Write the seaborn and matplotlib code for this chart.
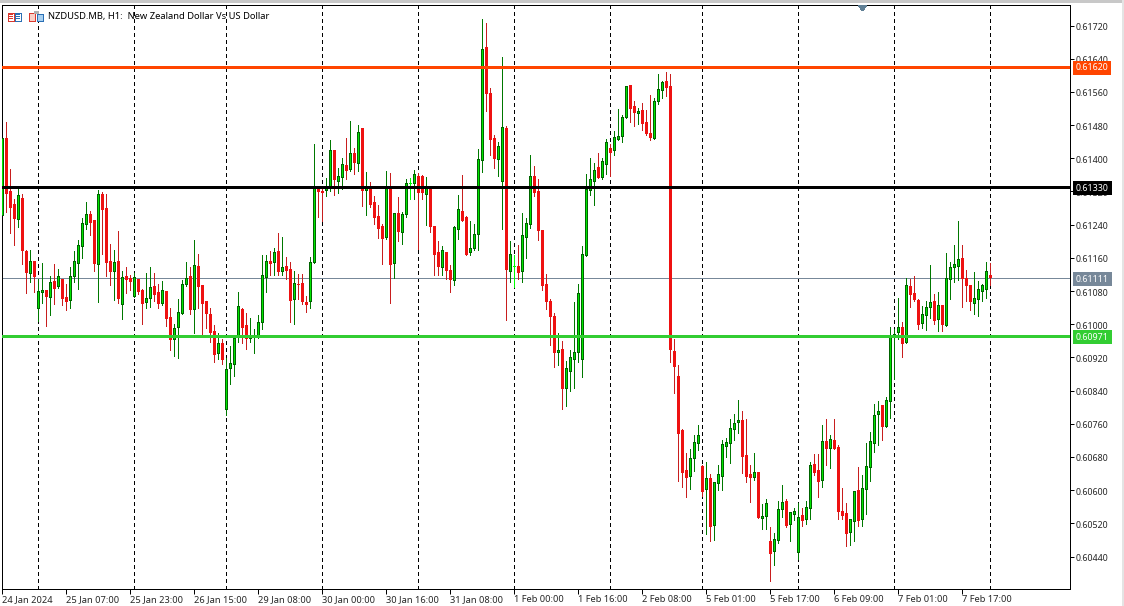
import numpy as np
import pandas as pd
import matplotlib.pyplot as plt
import seaborn as sns
from matplotlib.patches import Rectangle, Polygon
from matplotlib.transforms import IdentityTransform, ScaledTranslation, blended_transform_factory

# H1 candles, prices in points (1e-5)
highs = [
    61446,61487,61373,61301,61325,61313,61178,61178,61151,61108,
    61147,61079,61116,61145,61132,61108,61096,61137,61176,61202,
    61255,61294,61272,61248,61323,61318,61313,61193,61178,61224,
    61128,61137,61118,61123,61108,61084,61123,61137,61123,61096,
    61104,61077,61039,61000,61060,61106,61149,61137,61202,61169,
    61092,61055,61039,60998,60978,60964,60918,60947,60966,61077,
    61039,61026,61014,60988,61022,61166,61166,61176,61183,61219,
    61210,61161,61149,61128,61120,61120,61067,61161,61434,61332,
    61332,61352,61443,61417,61376,61400,61450,61491,61424,61479,
    61470,61366,61344,61308,61287,61241,61369,61364,61267,61306,
    61270,61349,61352,61371,61364,61359,61356,61330,61234,61200,
    61188,61171,61142,61236,61311,61359,61260,61248,61241,61422,
    61735,61725,61569,61455,61439,61643,61477,61200,61168,61190,
    61269,61257,61409,61381,61349,61224,61120,61062,61026,60980,
    60959,60911,60937,61053,61096,61188,61363,61400,61388,61412,
    61400,61446,61434,61465,61518,61504,61574,61574,61537,61520,
    61533,61516,61552,61545,61602,61586,61607,61602,60964,60901,
    60747,60689,60699,60733,60757,60660,60668,60639,60617,60660,
    60721,60725,60771,60783,60817,60790,60771,60660,60689,60641,
    60566,60578,60511,60497,60574,60612,60578,60545,60557,60569,
    60557,60574,60668,60687,60687,60757,60771,60733,60771,60709,
    60605,60569,60528,60595,60656,60636,60713,60740,60807,60815,
    60805,60824,60993,60988,61063,61005,61111,61108,61116,61060,
    61043,61055,61142,61072,61077,61043,61171,61149,61190,61248,
    61190,61130,61092,61125,61104,61096,61149,61147,
]
body_tops = [
    61446,61446,61318,61287,61308,61301,61173,61149,61149,61077,
    61079,61079,61099,61101,61113,61106,61063,61113,61149,61188,
    61241,61263,61263,61248,61311,61311,61277,61149,61147,61149,
    61111,61113,61108,61111,61106,61079,61060,61087,61089,61075,
    61079,61077,61014,60988,61026,61094,61108,61113,61140,61137,
    61092,61053,61022,60981,60952,60952,60889,60904,60964,61041,
    61034,60995,60969,60969,61002,61116,61149,61149,61171,61173,
    61135,61137,61130,61096,61095,61096,61051,61147,61330,61330,
    61318,61330,61417,61417,61354,61383,61381,61410,61410,61460,
    61470,61330,61330,61291,61258,61234,61330,61330,61265,61265,
    61263,61337,61339,61359,61354,61354,61330,61330,61234,61171,
    61176,61171,61128,61231,61275,61270,61255,61181,61214,61397,
    61660,61665,61554,61446,61427,61472,61470,61166,61139,61137,
    61212,61241,61356,61354,61318,61224,61094,61053,61017,60935,
    60939,60891,60918,60930,61074,61166,61323,61347,61369,61376,
    61390,61436,61422,61448,61451,61496,61571,61574,61523,61511,
    61513,61484,61458,61535,61564,61581,61583,61571,60933,60872,
    60742,60646,60675,60713,60730,60656,60627,60627,60617,60636,
    60709,60713,60747,60759,60766,60766,60682,60636,60641,60641,
    60535,60566,60475,60480,60552,60569,60571,60545,60547,60533,
    60538,60557,60658,60660,60646,60716,60716,60721,60718,60701,
    60547,60542,60528,60595,60598,60603,60656,60716,60778,60788,
    60802,60815,60972,60973,60990,60990,61092,61089,61072,61055,
    61022,61038,61051,61053,61043,61043,61108,61135,61142,61154,
    61157,61108,61092,61060,61082,61092,61125,61116,
]
body_bottoms = [
    61261,61313,61280,61253,61251,61176,61123,61120,61113,61036,
    61075,61065,61063,61084,61089,61060,61053,61055,61113,61145,
    61185,61238,61243,61145,61142,61275,61147,61125,61125,61060,
    61046,61106,61101,61065,61077,61048,61051,61060,61070,61048,
    61048,61012,60961,60961,60990,61024,61094,61034,61034,61089,
    61048,61024,60978,60925,60928,60913,60793,60892,60901,60966,
    60990,60964,60964,60966,60969,61002,61111,61145,61147,61125,
    61125,61128,61055,61058,61094,61053,61046,61053,61147,61318,
    61316,61320,61330,61347,61344,61352,61369,61371,61388,61385,
    61320,61320,61287,61255,61229,61205,61207,61142,61145,61222,
    61219,61263,61339,61337,61316,61316,61311,61234,61166,61137,
    61135,61128,61106,61104,61226,61250,61166,61171,61181,61214,
    61393,61554,61443,61398,61395,61342,61130,61127,61139,61123,
    61125,61209,61238,61316,61224,61091,61053,61017,60930,60930,
    60843,60843,60884,60913,60930,60913,61164,61321,61342,61352,
    61352,61383,61412,61417,61443,61451,61496,61518,61508,61506,
    61482,61458,61448,61446,61535,61561,61569,60937,60896,60735,
    60641,60629,60631,60675,60711,60595,60600,60511,60513,60615,
    60631,60704,60711,60745,60762,60680,60631,60629,60629,60533,
    60530,60535,60446,60451,60477,60552,60513,60516,60540,60448,
    60525,60528,60554,60641,60619,60622,60699,60699,60699,60547,
    60538,60494,60497,60523,60525,60528,60600,60653,60711,60781,
    60752,60752,60812,60970,60978,60952,60954,61070,61058,60998,
    61000,61019,61038,61007,61010,60998,60995,61106,61135,61137,
    61108,61092,61053,61048,61058,61077,61082,61112,
]
lows = [
    61261,61271,61219,61190,61234,61145,61075,61101,61077,61007,
    61051,60995,61022,61048,61087,61046,61034,61039,61101,61084,
    61159,61229,61214,61128,61053,61169,61116,61094,61058,61051,
    61012,61075,61082,61065,61072,61000,61039,61041,61055,61039,
    61046,60995,60937,60923,60918,61024,61092,61024,60978,61039,
    60973,60990,60957,60908,60916,60904,60781,60855,60875,60957,
    60954,60940,60957,60930,60966,60988,61077,61118,61118,61118,
    61118,61108,61005,61000,61060,61048,61029,61039,61147,61258,
    61250,61308,61320,61311,61316,61325,61349,61369,61361,61369,
    61284,61263,61282,61241,61207,61145,61205,61051,61111,61200,
    61193,61258,61301,61303,61181,61301,61238,61222,61118,61118,
    61118,61108,61077,61094,61205,61250,61166,61166,61178,61178,
    61366,61513,61407,61376,61357,61229,61009,61101,61089,61108,
    61101,61159,61233,61308,61204,61082,61036,60949,60896,60901,
    60795,60802,60838,60846,60908,60874,61164,61311,61287,61352,
    61349,61362,61357,61407,61443,61439,61496,61487,61477,61482,
    61468,61455,61443,61446,61530,61545,61549,60908,60834,60622,
    60607,60583,60603,60646,60696,60586,60494,60477,60480,60600,
    60600,60680,60665,60721,60737,60641,60619,60571,60624,60533,
    60506,60506,60381,60419,60472,60535,60511,60477,60528,60434,
    60513,60518,60530,60636,60583,60607,60660,60653,60699,60530,
    60530,60465,60468,60477,60513,60513,60542,60622,60692,60709,
    60721,60752,60774,60867,60964,60920,60954,61041,61055,60988,
    60990,60985,61014,61000,60983,60983,60995,61060,61101,61106,
    61041,61055,61034,61024,61019,61055,61063,61094,
]
# G up, R down, D doji
directions = (
    "GRRRGRRGRG" "GRGRGRRGGG" "GGRRGRRRGR" "GRRGRRGGRR" "GRRGGGGRGR"
    "RRRRGRGGGG" "RRGGGGGRGR" "GRRGRRRGGR" "RGGRGGRGRG" "RGRRRRGRGR"
    "GGDGRRGRRR" "GRRGGRRGGG" "GRRRGGRGDR" "GGGRRRRRRG" "RGGGGGGGGR"
    "GGRGGGGRRG" "RRRGGGRRRR" "RRGGGRGRGG" "GGGGGRRRGR" "GGRGGGRGGG"
    "RGGRRGRGRR" "RRGGRGGGGG" "RGGGGRGRRR" "GGGRGRGGGG" "RRRGGGGR"
)

date_labels = ["24 Jan 2024", "25 Jan 07:00", "25 Jan 23:00", "26 Jan 15:00",
               "29 Jan 08:00", "30 Jan 00:00", "30 Jan 16:00", "31 Jan 08:00",
               "1 Feb 00:00", "1 Feb 16:00", "2 Feb 08:00", "5 Feb 01:00",
               "5 Feb 17:00", "6 Feb 09:00", "7 Feb 01:00", "7 Feb 17:00"]
session_bars = [9, 33, 56, 80, 104, 128, 152, 175, 199, 223, 247]
level_prices = [0.61620, 0.61330, 0.60971]
level_colors = ["#ff4500", "#000000", "#32cd32"]
last_price = 0.61111
price_ticks = [p / 1e5 for p in range(61720, 60400, -80)]

W, H = 1124, 606
AX_L, AX_R, AX_T, AX_B = 2.2, 1070.2, 5.2, 589.2
PX_PER_PRICE = 41490.0
TICK_TOP = 25.5  # pixel row of 0.61720

sns.set_style("white")
plt.rcParams["font.family"] = ["Noto Sans", "DejaVu Sans"]
plt.rcParams["lines.antialiased"] = False
plt.rcParams["patch.antialiased"] = False
px = 0.72  # one pixel in points at dpi 100

fig = plt.figure(figsize=(W / 100, H / 100), dpi=100, facecolor="white")
ax = fig.add_axes([AX_L / W, 1 - AX_B / H, (AX_R - AX_L) / W, (AX_B - AX_T) / H])
ax.set_xlim(0, (AX_R - AX_L) / 4)
y_top = 0.61720 + (TICK_TOP - AX_T) / PX_PER_PRICE
y_bot = 0.61720 - (AX_B - TICK_TOP) / PX_PER_PRICE
ax.set_ylim(y_bot, y_top)

bars = np.arange(len(highs))
dirs = np.array(list(directions))
hi = np.array(highs) / 1e5
lo = np.array(lows) / 1e5
top = np.array(body_tops) / 1e5
bottom = np.array(body_bottoms) / 1e5

for b in session_bars:
    ax.plot([b, b], [y_bot, y_top], color="black", lw=px, dash_capstyle="butt",
            dashes=(4, 3), scaley=False, scalex=False, zorder=1)
ax.axhline(last_price, color="#778899", lw=px, zorder=1)

wicks = pd.DataFrame({
    "bar": np.concatenate([bars, bars]),
    "price": np.concatenate([hi, lo]),
    "kind": np.concatenate([dirs, dirs]),
})
sns.lineplot(data=wicks, x="bar", y="price", units="bar", estimator=None, hue="kind",
             palette={"G": "#007800", "R": "#c81e1e", "D": "#00ff00"}, linewidth=px,
             legend=False, sort=False, ax=ax, zorder=2)

up = dirs == "G"
down = dirs == "R"
doji = dirs == "D"
one_px = 1 / PX_PER_PRICE
# green body: dark frame with a lime core, one pixel in
ax.bar(bars[up], (top - bottom)[up] + one_px, bottom=bottom[up], width=0.75,
       color="#006400", linewidth=0, zorder=3)
core = np.maximum(top - bottom - one_px, 0)
ax.bar(bars[up], core[up], bottom=bottom[up] + one_px, width=0.25, color="#00e600",
       linewidth=0, zorder=3.1)
ax.bar(bars[down], (top - bottom)[down] + one_px, bottom=bottom[down], width=0.75,
       color="#ee1111", linewidth=0, zorder=3)
ax.bar(bars[doji], (top - bottom)[doji] + one_px, bottom=bottom[doji], width=0.75,
       color="#00ff00", linewidth=0, zorder=3)

for price, colour in zip(level_prices, level_colors):
    ax.axhline(price, color=colour, lw=px * 3, zorder=4)

ax.set_xticks(np.arange(len(date_labels)) * 16)
ax.set_xticklabels(date_labels, ha="left", fontsize=6.7)
ax.yaxis.tick_right()
ax.set_yticks(price_ticks)
ax.set_yticklabels(["%.5f" % p for p in price_ticks], fontsize=6.4)
ax.tick_params(axis="x", length=3.6, width=px, pad=0.8, color="black", bottom=True)
ax.tick_params(axis="y", length=3, width=px, pad=1, color="black", right=True)
ax.set_xlabel("")
ax.set_ylabel("")
ax.set_xlim(0, (AX_R - AX_L) / 4)
ax.set_ylim(y_bot, y_top)
for s in ax.spines.values():
    s.set_color("black")
    s.set_linewidth(px)

# labels sit a pixel lower on the price scale
one_down = ScaledTranslation(0, -1 / 100, fig.dpi_scale_trans)
for lab in ax.get_yticklabels():
    lab.set_transform(lab.get_transform() + one_down)

# tags on the price scale
tag_tf = blended_transform_factory(ax.transAxes, ax.transData) + one_down
tag_x = (1076 - AX_L) / (AX_R - AX_L)
for price, colour in zip(level_prices + [last_price], level_colors + ["#778899"]):
    ax.text(tag_x, price, "%.5f" % price, transform=tag_tf, color="white", fontsize=6.4,
            va="center", ha="left", clip_on=False, zorder=10,
            bbox=dict(boxstyle="square,pad=0.3", fc=colour, ec="none"))

fig.text(48 / W, 1 - 16.5 / H, "NZDUSD.MB, H1:  New Zealand Dollar Vs US Dollar",
         fontsize=6.75, color="black", va="center", ha="left")


def px_rect(x, y, w, h, fc, ec="none"):
    fig.add_artist(Rectangle((x, H - y - h), w, h, fc=fc, ec=ec, lw=px,
                             transform=IdentityTransform(), zorder=6))


# frame bands of the terminal window
px_rect(0, 0, W, 3, "#c8c8c8")
px_rect(W - 2, 0, 2, H, "#e4e4e4")

# toolbar icons
px_rect(7.5, 12.5, 6, 8, "white", "#d9382e")
px_rect(14.5, 12.5, 6, 8, "white", "#2a6fb5")
for yy in (14, 16, 18):
    px_rect(9, yy, 4, 1, "#d9382e")
    px_rect(16, yy, 4, 1, "#2a6fb5")
px_rect(28.5, 12.5, 6, 8, "#f8d0c8", "#d9382e")
px_rect(36.5, 13.5, 6, 7, "#a8d0f0", "#2a6fb5")
px_rect(34, 11, 5, 3, "#b0b0b0")

# chart shift marker at the top
fig.add_artist(Polygon([(858, H - 5.5), (867, H - 5.5), (862.5, H - 11)], closed=True, fc="#5f7f95",
                       ec="none", transform=IdentityTransform(), zorder=6))

fig.savefig("out.png", dpi=100)
